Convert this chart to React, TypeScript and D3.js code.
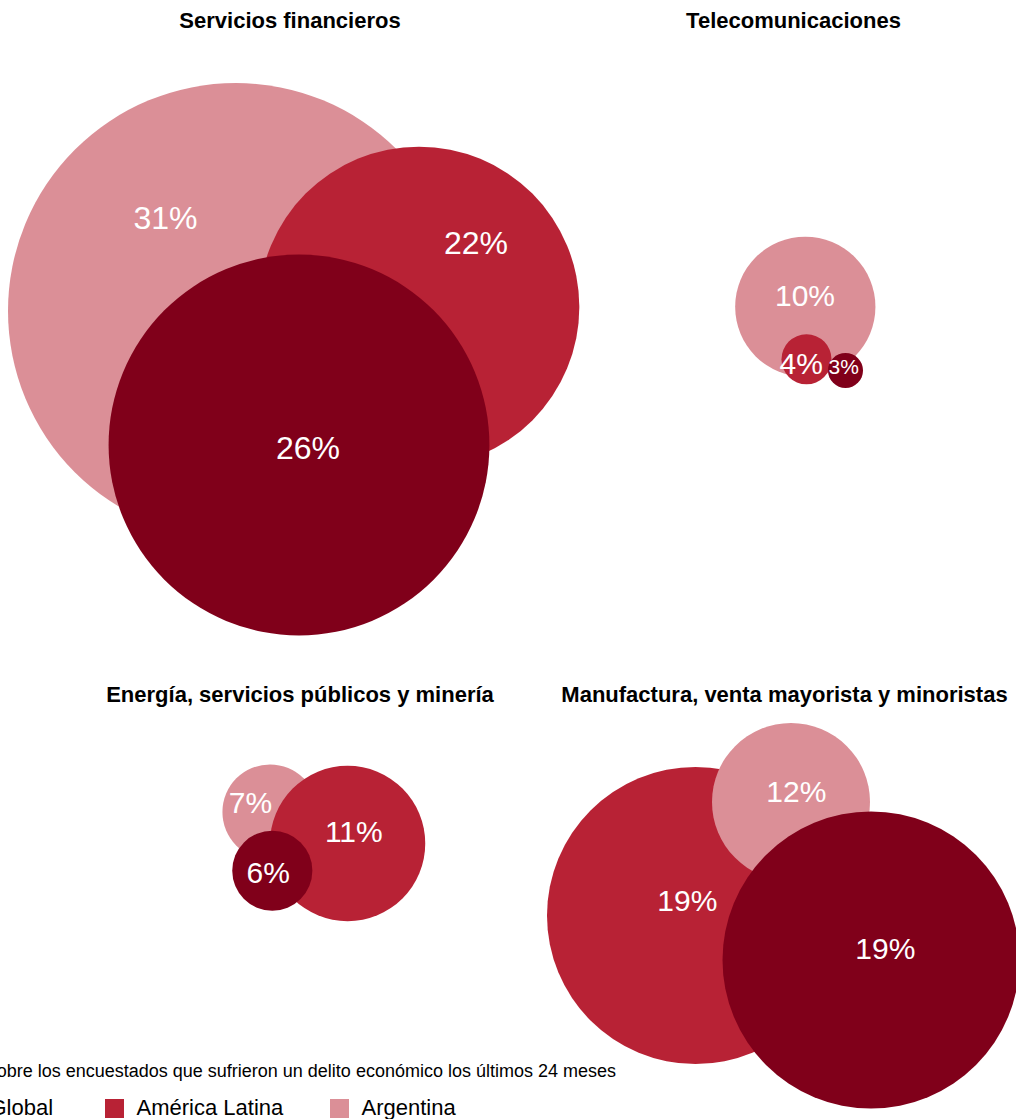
import React from "react";
import * as d3 from "d3";

// ---------- DATA ----------
const panelTitles = [
  "Servicios financieros",
  "Telecomunicaciones",
  "Energía, servicios públicos y minería",
  "Manufactura, venta mayorista y minoristas",
];
const seriesNames = ["Global", "América Latina", "Argentina"];
const globalValues = [26, 3, 6, 19];
const latamValues = [22, 4, 11, 19];
const argentinaValues = [31, 10, 7, 12];
const caption =
  "Sobre los encuestados que sufrieron un delito económico los últimos 24 meses";

// ---------- STYLE / LAYOUT ----------
const seriesColors = ["#80001A", "#B82235", "#DB8F97"];
const FONT = "'Liberation Sans', Arial, Helvetica, sans-serif";
const W = 1016;
const H = 1119;

// per-panel layout: bubble centers / label anchors per series [Global, LatAm, Argentina]
const panelLayout = [
  {
    title: [290, 28],
    rDomain: [3, 31],
    rRange: [17.5, 228],
    order: [2, 1, 0],
    centers: [[299, 445], [419, 307], [236, 311]],
    labels: [[308, 459], [476, 254], [165.5, 229]],
    fontSizes: [32, 32, 32],
  },
  {
    title: [793.5, 28],
    rDomain: [3, 31],
    rRange: [17.5, 228],
    order: [2, 1, 0],
    centers: [[845.5, 370.5], [806.5, 359.3], [805.3, 306.8]],
    labels: [[843.8, 374.3], [801.3, 374.3], [805, 306]],
    fontSizes: [21, 30, 30],
  },
  {
    title: [300, 702],
    rDomain: [3, 31],
    rRange: [17.5, 228],
    order: [2, 1, 0],
    centers: [[272.3, 870.7], [347.6, 843.5], [270, 812]],
    labels: [[268.3, 882.7], [353.8, 841.7], [250.5, 813.3]],
    fontSizes: [30, 30, 30],
  },
  {
    title: [784.5, 702],
    rDomain: [12, 19],
    rRange: [79, 148.5],
    order: [1, 2, 0],
    centers: [[871, 960], [695.5, 915.5], [791, 802]],
    labels: [[885.3, 959.3], [687.3, 910.7], [796.3, 801.7]],
    fontSizes: [30, 30, 30],
  },
];

const legendLayout = { squareX: [-42, 105, 330], y: 1099, size: 19, textGap: 31.5, baseline: 1115 };

export default function App() {
  const seriesValues = [globalValues, latamValues, argentinaValues];

  return (
    <svg
      width={W}
      height={H}
      style={{ position: "absolute", left: 0, top: 0, background: "#fff" }}
      fontFamily={FONT}
    >
      {panelTitles.map((title, p) => {
        const L = panelLayout[p];
        const r = d3.scaleLinear().domain(L.rDomain).range(L.rRange);
        return (
          <g key={title}>
            <text
              x={L.title[0]}
              y={L.title[1]}
              textAnchor="middle"
              fontSize={22}
              fontWeight="bold"
              fill="#000"
            >
              {title}
            </text>
            {L.order.map((s) => (
              <circle
                key={"c" + s}
                cx={L.centers[s][0]}
                cy={L.centers[s][1]}
                r={r(seriesValues[s][p])}
                fill={seriesColors[s]}
              />
            ))}
            {L.order.map((s) => (
              <text
                key={"t" + s}
                x={L.labels[s][0]}
                y={L.labels[s][1]}
                textAnchor="middle"
                fontSize={L.fontSizes[s]}
                fill="#fff"
              >
                {d3.format("d")(seriesValues[s][p]) + "%"}
              </text>
            ))}
          </g>
        );
      })}

      <text x={616} y={1077} textAnchor="end" fontSize={18} fill="#000">
        {caption}
      </text>

      {seriesNames.map((name, i) => (
        <g key={name}>
          <rect
            x={legendLayout.squareX[i]}
            y={legendLayout.y}
            width={legendLayout.size}
            height={legendLayout.size}
            fill={seriesColors[i]}
          />
          <text
            x={legendLayout.squareX[i] + legendLayout.textGap}
            y={legendLayout.baseline}
            fontSize={22}
            fill="#000"
          >
            {name}
          </text>
        </g>
      ))}
    </svg>
  );
}
